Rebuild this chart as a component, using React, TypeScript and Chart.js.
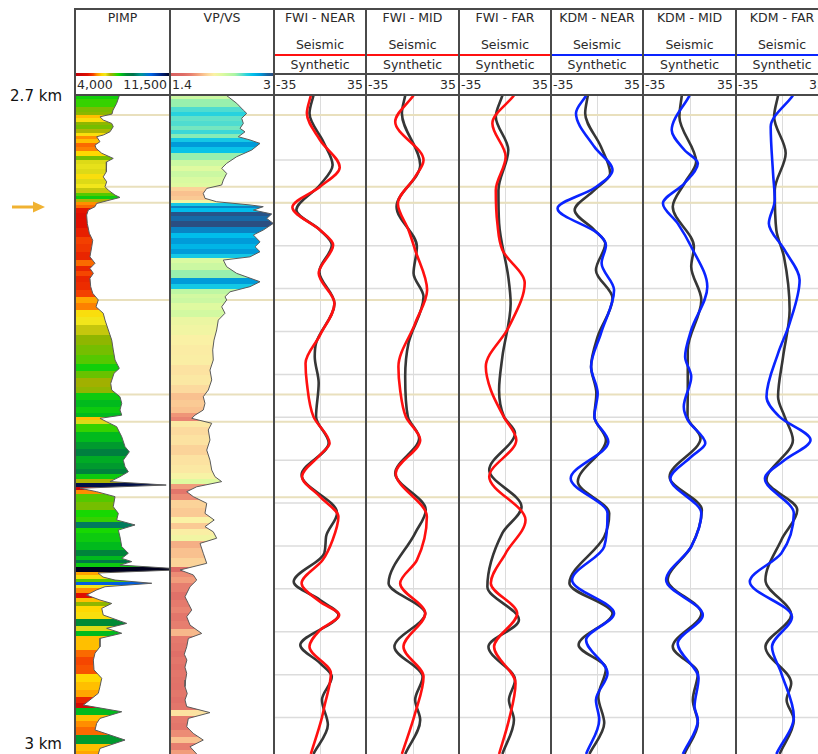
import React, { useEffect, useRef } from 'react';
import { Chart, registerables } from 'chart.js';

Chart.register(...registerables);

// ---------------- data ----------------
const D_MIN = 2700.2;
const D_MAX = 3007;
const GRID_DEPTHS = [2730, 2750, 2770, 2790, 2810, 2830, 2850, 2870, 2890, 2910, 2930, 2950, 2970, 2990];
const TOPS = [2709.1, 2742.5, 2750.0, 2795.3, 2839.4, 2852.1, 2887.3];

const DEPTH_LABELS: [number, string][] = [[2700, '2.7 km'], [3000, '3 km']];

const PIMP_RANGE = [4000, 11500];
const PIMP_TICKS = ['4,000', '11,500'];
const VPVS_RANGE = [1.4, 3];
const VPVS_TICKS = ['1.4', '3'];
const AMP_RANGE = [-35, 35];
const AMP_TICKS = ['-35', '35'];

const TRACK_TITLES = ['PIMP', 'VP/VS', 'FWI - NEAR', 'FWI - MID', 'FWI - FAR', 'KDM - NEAR', 'KDM - MID', 'KDM - FAR'];

// [depth m, value]
const PIMP: [number, number][] = [
  [2700.0, 7500], [2703.6, 7290], [2706.8, 7000], [2708.6, 6920], [2709.9, 5970], [2711.4, 6230],
  [2713.0, 6900], [2714.5, 7020], [2716.9, 6760], [2718.4, 6230], [2719.2, 5710], [2721.5, 5970],
  [2723.1, 5580], [2724.6, 5660], [2726.9, 6110], [2729.3, 7020], [2730.9, 6500], [2733.2, 6450],
  [2735.5, 6500], [2737.9, 6230], [2740.2, 6500], [2742.5, 6370], [2744.1, 6630], [2746.4, 7160],
  [2747.5, 7550], [2748.7, 6760], [2750.3, 5710], [2751.8, 5580], [2753.4, 5050], [2755.7, 4920],
  [2759.6, 4970], [2764.2, 5130], [2767.5, 5400], [2770.5, 5320], [2775.2, 5180], [2778.2, 5580],
  [2780.6, 5180], [2782.9, 5450], [2785.2, 5180], [2789.1, 5240], [2792.2, 5400], [2795.3, 5840],
  [2798.5, 5660], [2801.5, 6230], [2804.7, 6370], [2809.3, 6630], [2814.0, 6900], [2818.6, 7020],
  [2823.3, 7160], [2827.2, 7500], [2829.5, 7080], [2834.2, 6820], [2837.3, 6900], [2840.4, 7550],
  [2843.5, 7690], [2846.6, 7550], [2849.0, 7690], [2850.5, 5970], [2852.1, 6500], [2854.4, 7290],
  [2859.1, 7690], [2863.7, 7950], [2866.1, 8290], [2870.0, 7810], [2873.1, 7950], [2875.4, 8210],
  [2877.7, 7550], [2880.0, 6760], [2881.6, 11200], [2883.1, 4400], [2884.7, 5710], [2887.0, 7160],
  [2891.7, 7020], [2894.8, 7420], [2897.9, 7290], [2900.2, 8740], [2902.6, 7420], [2905.7, 7550],
  [2910.3, 7690], [2913.4, 8210], [2915.8, 7690], [2917.3, 8480], [2918.9, 7550], [2920.4, 11500],
  [2921.3, 11500], [2922.6, 5820], [2924.5, 6210], [2925.9, 7160], [2927.4, 10060], [2929.0, 6370],
  [2930.5, 5710], [2932.9, 4920], [2935.2, 5970], [2936.8, 6900], [2939.1, 6110], [2942.2, 6230],
  [2946.1, 8080], [2948.4, 6500], [2950.7, 7690], [2953.1, 5970], [2957.0, 5970], [2960.0, 5580],
  [2963.2, 5450], [2967.8, 5500], [2971.7, 6110], [2975.6, 5970], [2978.7, 5840], [2981.8, 5180],
  [2984.2, 4660], [2987.3, 7690], [2990.4, 5970], [2992.7, 5710], [2995.8, 5580], [3000.5, 7950],
  [3004.4, 5970], [3007.0, 5840],
];

const VPVS: [number, number][] = [
  [2700.0, 2.272], [2703.6, 2.426], [2706.8, 2.528], [2708.3, 2.58], [2710.6, 2.503], [2713.0, 2.528],
  [2715.3, 2.477], [2716.9, 2.554], [2719.2, 2.451], [2720.7, 2.631], [2722.3, 2.785], [2725.4, 2.657],
  [2728.5, 2.426], [2731.6, 2.272], [2733.9, 2.195], [2736.3, 2.272], [2739.4, 2.22], [2741.7, 2.195],
  [2743.3, 1.965], [2745.6, 1.912], [2747.9, 1.938], [2749.5, 2.118], [2751.0, 2.631], [2751.8, 2.835],
  [2753.4, 2.682], [2755.2, 2.965], [2757.3, 2.888], [2759.6, 2.989], [2762.7, 2.835], [2765.0, 2.682],
  [2768.2, 2.785], [2770.5, 2.708], [2772.8, 2.785], [2775.2, 2.631], [2776.7, 2.22], [2779.8, 2.272],
  [2782.9, 2.426], [2786.8, 2.785], [2789.1, 2.631], [2791.5, 2.323], [2793.8, 2.246], [2795.3, 2.272],
  [2798.5, 2.195], [2801.5, 2.246], [2804.7, 2.143], [2809.3, 2.118], [2814.0, 2.077], [2818.6, 2.057],
  [2823.3, 2.066], [2828.0, 2.015], [2832.6, 2.042], [2837.3, 1.989], [2840.4, 1.912], [2843.5, 1.938],
  [2846.6, 1.912], [2849.0, 1.785], [2850.5, 1.734], [2852.8, 2.042], [2855.9, 1.989], [2860.6, 2.015],
  [2865.3, 1.965], [2870.0, 2.015], [2874.6, 2.042], [2877.7, 2.092], [2880.0, 2.195], [2882.4, 1.811],
  [2884.7, 1.657], [2887.0, 1.758], [2890.1, 1.965], [2894.8, 1.938], [2897.9, 2.08], [2901.0, 1.938],
  [2903.4, 2.066], [2906.4, 2.118], [2908.8, 1.862], [2913.4, 1.912], [2918.1, 1.965], [2921.2, 1.554],
  [2923.5, 1.758], [2925.9, 1.811], [2929.0, 1.708], [2933.7, 1.631], [2936.8, 1.682], [2939.9, 1.734],
  [2943.0, 1.657], [2946.9, 1.708], [2950.8, 1.888], [2953.1, 1.682], [2957.0, 1.657], [2960.5, 1.62],
  [2963.2, 1.66], [2966.5, 1.63], [2969.4, 1.657], [2972.5, 1.64], [2975.6, 1.631], [2978.8, 1.665],
  [2981.8, 1.631], [2984.9, 1.657], [2987.7, 2.015], [2990.4, 1.682], [2994.3, 1.657], [2997.4, 1.758],
  [3000.5, 1.912], [3003.6, 1.708], [3007.0, 1.811],
];

// [depth m, amplitude]
const FWI_NEAR_SEIS: [number, number][] = [
  [2700, -7], [2708.3, -10], [2720.7, 0], [2733.5, 15], [2742.5, 0], [2752.1, -21], [2762.7, 0], [2769.7, 10],
  [2782.9, -1], [2796.9, 11], [2811.7, 0], [2824.8, -11], [2834, -10], [2849.7, -5], [2862.1, 7.3], [2867.6, 0],
  [2877.7, -13.7], [2887, 0], [2896.4, 14], [2907.2, 9.6], [2916.6, 2], [2927.4, -14], [2936, 0], [2942.2, 14.6],
  [2949.2, 0], [2957, -8], [2969.4, 8.3], [2984.9, 3.3], [2991.1, 1], [3007, -7],
];
const FWI_NEAR_SYN: [number, number][] = [
  [2700, -5], [2708.3, -8], [2722.1, 3], [2732.4, 9.6], [2741.7, 0], [2753.4, -18], [2762.7, 0], [2769.7, 9],
  [2782.1, -0.5], [2796.9, 11], [2815.4, -3], [2821.8, -4], [2834, -1], [2849.7, -3], [2862, 6.6], [2876.9, -14],
  [2894.6, 13], [2905.7, 4.6], [2913.3, 3.3], [2926.7, -20], [2935.2, 0], [2942.2, 14], [2956.2, -15], [2964.6, 0],
  [2971, 9], [2981.8, 1.5], [2993.4, 6], [3007, -5],
];
const FWI_MID_SEIS: [number, number][] = [
  [2700, 0.7], [2712.2, -13], [2730.1, 8.3], [2737.9, 2], [2750.3, -11], [2762.7, -3], [2772, 2], [2790.7, 11],
  [2806.2, 2], [2826.4, -10.6], [2837.3, -9.3], [2849.7, -5], [2860.6, 5.8], [2876.1, -12.6], [2896.4, 10.8],
  [2916.6, 3.3], [2927.4, -9.3], [2941.4, 9.6], [2957, -6.8], [2971, 8.3], [2987.9, 2], [3007, -8],
];
const FWI_MID_SYN: [number, number][] = [
  [2700, -5.5], [2708.3, -8], [2732.4, 5.8], [2751.8, -12], [2770.5, 3.3], [2782.9, 0.8], [2793.8, 8.3],
  [2815.4, -3], [2831.1, -5.5], [2849.7, -3.5], [2859.7, 5], [2876.1, -13], [2893.2, 10], [2904, 2],
  [2927.4, -18], [2941.4, 9.6], [2957, -13.6], [2971, 7.6], [2981.8, 2], [2991.1, 5.8], [3007, -5.5],
];
const FWI_FAR_SEIS: [number, number][] = [
  [2700, 6.8], [2713, -9.6], [2728.5, 0.5], [2744.1, -7], [2759.6, -5.8], [2772, -2], [2787.4, 15], [2807.8, 3],
  [2826.4, -14.6], [2837.3, -10.8], [2849.7, -1], [2860.6, 8.6], [2877.7, -12], [2897.9, 15.6], [2913.4, 0.5],
  [2927.4, -10.8], [2941.4, 9.3], [2957, -8.3], [2974, 8], [2991.1, 3], [3007, -4.5],
];
const FWI_FAR_SYN: [number, number][] = [
  [2700, -2], [2709.9, -7], [2725.4, 2.5], [2744.1, -5], [2759.6, -4.5], [2784.5, 2.5], [2796.9, 4.3],
  [2821.8, -2], [2837.3, -4.5], [2849.7, -0.8], [2857.3, 7.6], [2874.6, -12], [2891.7, 12.6], [2904, -2],
  [2929, -13.4], [2944.5, 10.6], [2957, -12.6], [2972.5, 7.6], [2981.8, 3], [2991.1, 6.8], [3007, -2],
];
const KDM_NEAR_SEIS: [number, number][] = [
  [2700, -8.3], [2708.3, -16], [2723.9, -2], [2734.7, 11.8], [2743.1, -2], [2752.6, -30], [2764.2, 0.5],
  [2769.7, 6.8], [2778.2, 3.5], [2790.7, 13], [2810.9, 3], [2826.4, -4.5], [2838.8, 0.5], [2849.7, -2],
  [2861.4, 8.6], [2878.5, -20], [2894.8, 8], [2910.3, 5.5], [2925.9, -19], [2941.4, 13], [2953.8, -8.3],
  [2969.4, 8], [2981.8, -0.8], [2991.1, 1.7], [3007, -8.3],
];
const KDM_NEAR_SYN: [number, number][] = [
  [2700, -7], [2708.3, -9], [2723.9, 3], [2736.3, 10], [2744.1, -2], [2753.4, -17], [2762.7, -2], [2768.9, 6.3],
  [2781.4, -0.8], [2794.5, 11.8], [2812.4, 0.5], [2826.4, -4.5], [2838.8, -0.5], [2849.7, -2], [2860.6, 6.8],
  [2880, -14.6], [2894.8, 9.3], [2905.7, 5.5], [2927.4, -21], [2941.4, 11.8], [2956.2, -14], [2967, 6.8],
  [2980.3, 1], [2992.6, 5.5], [3007, -5.8],
];
const KDM_MID_SEIS: [number, number][] = [
  [2700, 0], [2716.1, -13.4], [2725.4, -3.8], [2731.6, 6.3], [2740.9, -3.8], [2750.3, -20], [2759.6, -8.9],
  [2770.5, 1.3], [2789.1, 13.4], [2809.3, 1.3], [2821.8, -3.3], [2831.1, 1.3], [2845.1, -4.3], [2851.3, -1.3],
  [2862.1, 11.9], [2868.4, 1.3], [2878.5, -14.4], [2894.8, 8.9], [2910.3, 1.3], [2925.9, -17.6], [2942.2, 10],
  [2955.4, -8.9], [2971.7, 6.8], [2984.9, 3.8], [2991.1, 6.3], [3007, -5],
];
const KDM_MID_SYN: [number, number][] = [
  [2700, -5.8], [2709.9, -7.6], [2730.9, 5], [2740.9, -3.8], [2751.8, -12.6], [2770.5, 3.3], [2779.8, 1.3],
  [2795.3, 8.9], [2818.6, -1.3], [2837.3, -1.3], [2849.7, -1.5], [2859.8, 8.3], [2877.7, -15], [2893.2, 9.3],
  [2910.3, 1.3], [2925.9, -16.4], [2941.4, 8.9], [2957, -12.6], [2969.4, 6.3], [2981.8, 2.5], [2992.6, 6.3],
  [3007, -3.8],
];
const KDM_FAR_SEIS: [number, number][] = [
  [2700, 8.3], [2714.5, -8.6], [2736.3, -6.8], [2748.7, -5.5], [2759.6, -10], [2772, 2], [2786, 13.4],
  [2806.2, 5.8], [2820.2, -3], [2840.4, -11.8], [2849.7, -2], [2860.6, 21.7], [2869.9, 2], [2878.5, -13],
  [2894.8, 9], [2913.4, -0.5], [2926.7, -24.5], [2943, 7.6], [2957, -7.6], [2969.4, -0.5], [2989.6, 9],
  [3007, -4.3],
];
const KDM_FAR_SYN: [number, number][] = [
  [2700, -3], [2709.9, -6], [2726.9, 2.8], [2744.1, -5.5], [2762.7, -4.3], [2775.2, 1.5], [2800, 5.8],
  [2821.8, 0.8], [2840.4, -3], [2849.7, 2], [2860.6, 8.3], [2879.3, -11.8], [2893.2, 11.6], [2907.2, -0.5],
  [2925.9, -12.6], [2942.2, 7], [2957, -12.6], [2974, 7], [2981.8, 3.5], [2991.1, 9], [3007, -1.8],
];

// ---------------- styles / layout ----------------
const FONT = '"DejaVu Sans", Verdana, sans-serif';
const TRACK_LEFTS = [75, 170, 274, 366, 459, 551, 643, 736];
const TRACK_RIGHT_END = 828;
const PLOT_TOP = 96;
const PLOT_BOTTOM = 754;
const PLOT_H = PLOT_BOTTOM - PLOT_TOP;
const RED = '#ff1010';
const BLUE = '#0a24ff';
const SYN_COLOR = '#363636';
const GRID_COLOR = '#dcdcdc';
const TOP_COLOR = '#e9e0bd';
const BORDER = '#4a4a4a';

const PIMP_STOPS: [number, number[]][] = [
  [4000, [190, 0, 10]], [5000, [225, 15, 0]], [5450, [245, 70, 0]], [5700, [255, 140, 0]],
  [6100, [255, 215, 0]], [6400, [240, 232, 30]], [6800, [165, 175, 0]], [7100, [100, 195, 0]],
  [7400, [25, 218, 0]], [7700, [0, 185, 30]], [8100, [0, 135, 55]], [8600, [0, 115, 75]],
  [9200, [0, 150, 150]], [10000, [0, 100, 230]], [10800, [0, 35, 130]], [11500, [0, 0, 30]],
];
const VPVS_STOPS: [number, number[]][] = [
  [1.4, [215, 95, 95]], [1.6, [222, 108, 102]], [1.72, [232, 128, 112]], [1.82, [242, 160, 125]],
  [1.92, [250, 196, 145]], [2.0, [252, 222, 160]], [2.08, [250, 242, 165]], [2.2, [222, 250, 160]],
  [2.4, [170, 245, 165]], [2.5, [100, 226, 200]], [2.58, [40, 210, 222]], [2.68, [0, 190, 235]],
  [2.8, [0, 150, 215]], [2.9, [25, 100, 160]], [3.0, [45, 75, 125]],
];

function rgb(c: number[]) {
  return `rgb(${Math.round(c[0])},${Math.round(c[1])},${Math.round(c[2])})`;
}
function colorAt(stops: [number, number[]][], v: number) {
  if (v <= stops[0][0]) return rgb(stops[0][1]);
  for (let i = 1; i < stops.length; i++) {
    if (v <= stops[i][0]) {
      const [v0, c0] = stops[i - 1];
      const [v1, c1] = stops[i];
      const t = (v - v0) / (v1 - v0);
      return rgb(c0.map((c, k) => c + (c1[k] - c) * t));
    }
  }
  return rgb(stops[stops.length - 1][1]);
}
function cssGradient(stops: [number, number[]][], min: number, max: number) {
  return `linear-gradient(to right, ${stops
    .map(([v, c]) => `${rgb(c)} ${(((v - min) / (max - min)) * 100).toFixed(1)}%`)
    .join(', ')})`;
}

function bandGradient(chart: any, samples: [number, number][], stops: [number, number[]][]) {
  const { ctx, chartArea, scales } = chart;
  if (!chartArea || !scales.y) return colorAt(stops, samples[0][1]);
  const top = chartArea.top;
  const h = chartArea.bottom - chartArea.top;
  const g = ctx.createLinearGradient(0, top, 0, chartArea.bottom);
  const pos = (d: number) => Math.min(1, Math.max(0, (scales.y.getPixelForValue(d) - top) / h));
  let prev = colorAt(stops, samples[0][1]);
  g.addColorStop(0, prev);
  for (let i = 1; i < samples.length; i++) {
    const mid = (samples[i - 1][0] + samples[i][0]) / 2;
    const c = colorAt(stops, samples[i][1]);
    const p = pos(mid);
    g.addColorStop(p, prev);
    g.addColorStop(p, c);
    prev = c;
  }
  g.addColorStop(1, prev);
  return g;
}

const decorPlugin = {
  id: 'decor',
  beforeDatasetsDraw(chart: any, _args: any, opts: any) {
    const { ctx, chartArea: a, scales } = chart;
    const x = scales.x;
    const y = scales.y;
    ctx.save();
    if (opts && opts.grid) {
      ctx.strokeStyle = GRID_COLOR;
      ctx.lineWidth = 1.5;
      for (const d of GRID_DEPTHS) {
        const py = y.getPixelForValue(d);
        ctx.beginPath();
        ctx.moveTo(a.left, py);
        ctx.lineTo(a.right, py);
        ctx.stroke();
      }
      ctx.lineWidth = 1;
      const px = Math.round(x.getPixelForValue(0)) + 0.5;
      ctx.beginPath();
      ctx.moveTo(px, a.top);
      ctx.lineTo(px, a.bottom);
      ctx.stroke();
    }
    ctx.strokeStyle = TOP_COLOR;
    ctx.lineWidth = 2;
    for (const d of TOPS) {
      const py = y.getPixelForValue(d);
      ctx.beginPath();
      ctx.moveTo(a.left, py);
      ctx.lineTo(a.right, py);
      ctx.stroke();
    }
    ctx.restore();
  },
};

function toPoints(arr: [number, number][]) {
  return arr.map(([d, v]) => ({ x: v, y: d }));
}

function scalesFor(min: number, max: number) {
  return {
    x: { type: 'linear', min, max, display: false },
    y: { type: 'linear', min: D_MIN, max: D_MAX, reverse: true, display: false },
  };
}

function baseOptions(min: number, max: number, grid: boolean) {
  return {
    indexAxis: 'y',
    animation: false,
    responsive: false,
    events: [],
    layout: { padding: 0 },
    plugins: { legend: { display: false }, tooltip: { enabled: false }, decor: { grid } },
    scales: scalesFor(min, max),
  };
}

function logConfig(samples: [number, number][], stops: [number, number[]][], range: number[]) {
  return {
    type: 'line',
    data: {
      datasets: [
        {
          data: toPoints(samples),
          borderColor: '#5a5a5a',
          borderWidth: 1,
          pointRadius: 0,
          tension: 0,
          fill: { value: range[0] },
          backgroundColor: (c: any) => bandGradient(c.chart, samples, stops),
        },
      ],
    },
    options: baseOptions(range[0], range[1], false),
    plugins: [decorPlugin],
  };
}

function traceConfig(seis: [number, number][], syn: [number, number][], color: string) {
  const common = { pointRadius: 0, borderWidth: 2.6, cubicInterpolationMode: 'monotone', fill: false };
  return {
    type: 'line',
    data: {
      datasets: [
        { ...common, data: toPoints(seis), borderColor: color },
        { ...common, data: toPoints(syn), borderColor: SYN_COLOR },
      ],
    },
    options: baseOptions(AMP_RANGE[0], AMP_RANGE[1], true),
    plugins: [decorPlugin],
  };
}

type TrackDef = {
  title: string;
  kind: 'log' | 'trace';
  ticks: string[];
  build: () => any;
  bar?: string;
  color?: string;
};

const TRACKS: TrackDef[] = [
  { title: TRACK_TITLES[0], kind: 'log', ticks: PIMP_TICKS, build: () => logConfig(PIMP, PIMP_STOPS, PIMP_RANGE), bar: cssGradient(PIMP_STOPS, PIMP_RANGE[0], PIMP_RANGE[1]) },
  { title: TRACK_TITLES[1], kind: 'log', ticks: VPVS_TICKS, build: () => logConfig(VPVS, VPVS_STOPS, VPVS_RANGE), bar: cssGradient(VPVS_STOPS, VPVS_RANGE[0], VPVS_RANGE[1]) },
  { title: TRACK_TITLES[2], kind: 'trace', ticks: AMP_TICKS, color: RED, build: () => traceConfig(FWI_NEAR_SEIS, FWI_NEAR_SYN, RED) },
  { title: TRACK_TITLES[3], kind: 'trace', ticks: AMP_TICKS, color: RED, build: () => traceConfig(FWI_MID_SEIS, FWI_MID_SYN, RED) },
  { title: TRACK_TITLES[4], kind: 'trace', ticks: AMP_TICKS, color: RED, build: () => traceConfig(FWI_FAR_SEIS, FWI_FAR_SYN, RED) },
  { title: TRACK_TITLES[5], kind: 'trace', ticks: AMP_TICKS, color: BLUE, build: () => traceConfig(KDM_NEAR_SEIS, KDM_NEAR_SYN, BLUE) },
  { title: TRACK_TITLES[6], kind: 'trace', ticks: AMP_TICKS, color: BLUE, build: () => traceConfig(KDM_MID_SEIS, KDM_MID_SYN, BLUE) },
  { title: TRACK_TITLES[7], kind: 'trace', ticks: AMP_TICKS, color: BLUE, build: () => traceConfig(KDM_FAR_SEIS, KDM_FAR_SYN, BLUE) },
];

function ChartCanvas({ left, width, build }: { left: number; width: number; build: () => any }) {
  const ref = useRef<HTMLCanvasElement | null>(null);
  useEffect(() => {
    if (!ref.current) return;
    const chart = new Chart(ref.current, build());
    return () => chart.destroy();
  }, []);
  return (
    <canvas
      ref={ref}
      width={width}
      height={PLOT_H}
      style={{ position: 'absolute', left, top: PLOT_TOP, width, height: PLOT_H, display: 'block' }}
    />
  );
}

function abs(left: number, top: number, width: number, height: number, extra: any = {}) {
  return { position: 'absolute' as const, left, top, width, height, ...extra };
}

function TrackHeader({ t, left, width }: { t: TrackDef; left: number; width: number }) {
  const text = { fontSize: 12.5, lineHeight: '16px', color: '#2a2a2a', whiteSpace: 'nowrap' as const };
  return (
    <>
      <div style={abs(left, 10, width, 16, { ...text, textAlign: 'center' })}>{t.title}</div>
      {t.kind === 'trace' && (
        <>
          <div style={abs(left, 37, width, 16, { ...text, textAlign: 'center' })}>Seismic</div>
          <div style={abs(left, 53.5, width, 2, { background: t.color })} />
          <div style={abs(left, 57, width, 16, { ...text, textAlign: 'center' })}>Synthetic</div>
          <div style={abs(left, 73, width, 2, { background: BORDER })} />
        </>
      )}
      {t.kind === 'log' && <div style={abs(left, 73, width, 3, { background: t.bar })} />}
      <div style={abs(left + 2, 77, width - 5, 16, { ...text, textAlign: 'left' })}>{t.ticks[0]}</div>
      <div style={abs(left + 2, 77, width - 5, 16, { ...text, textAlign: 'right' })}>{t.ticks[1]}</div>
    </>
  );
}

export default function App() {
  const lefts = TRACK_LEFTS;
  const widths = lefts.map((l, i) => (i < lefts.length - 1 ? lefts[i + 1] : TRACK_RIGHT_END) - l);
  const depthLabelTop = (d: number) => PLOT_TOP + ((d - D_MIN) / (D_MAX - D_MIN)) * PLOT_H - 9 + (d > 2900 ? 5 : 0);
  return (
    <div
      style={{
        position: 'absolute',
        left: 0,
        top: 0,
        width: 818,
        height: 754,
        overflow: 'hidden',
        background: '#fff',
        fontFamily: FONT,
      }}
    >
      {DEPTH_LABELS.map(([d, label]) => (
        <div
          key={label}
          style={abs(0, depthLabelTop(d), 62, 18, { fontSize: 15, lineHeight: '18px', textAlign: 'right', color: '#111' })}
        >
          {label}
        </div>
      ))}
      <svg style={abs(8, 199, 42, 16)} width={42} height={16}>
        <line x1={4} y1={8} x2={27} y2={8} stroke="#f0b232" strokeWidth={3} />
        <polygon points="25,2.5 37,8 25,13.5" fill="#f0b232" />
      </svg>

      {TRACKS.map((t, i) => (
        <ChartCanvas key={'c' + i} left={lefts[i]} width={widths[i]} build={t.build} />
      ))}
      {TRACKS.map((t, i) => (
        <TrackHeader key={'h' + i} t={t} left={lefts[i]} width={widths[i]} />
      ))}

      {/* frame lines */}
      <div style={abs(lefts[0] - 1, 8, TRACK_RIGHT_END - lefts[0], 2, { background: BORDER })} />
      <div style={abs(lefts[0] - 1, 94, TRACK_RIGHT_END - lefts[0], 2, { background: BORDER })} />
      {lefts.map((l, i) => (
        <div key={'v' + i} style={abs(l - 1, 8, 2, 754 - 8, { background: BORDER })} />
      ))}
    </div>
  );
}
